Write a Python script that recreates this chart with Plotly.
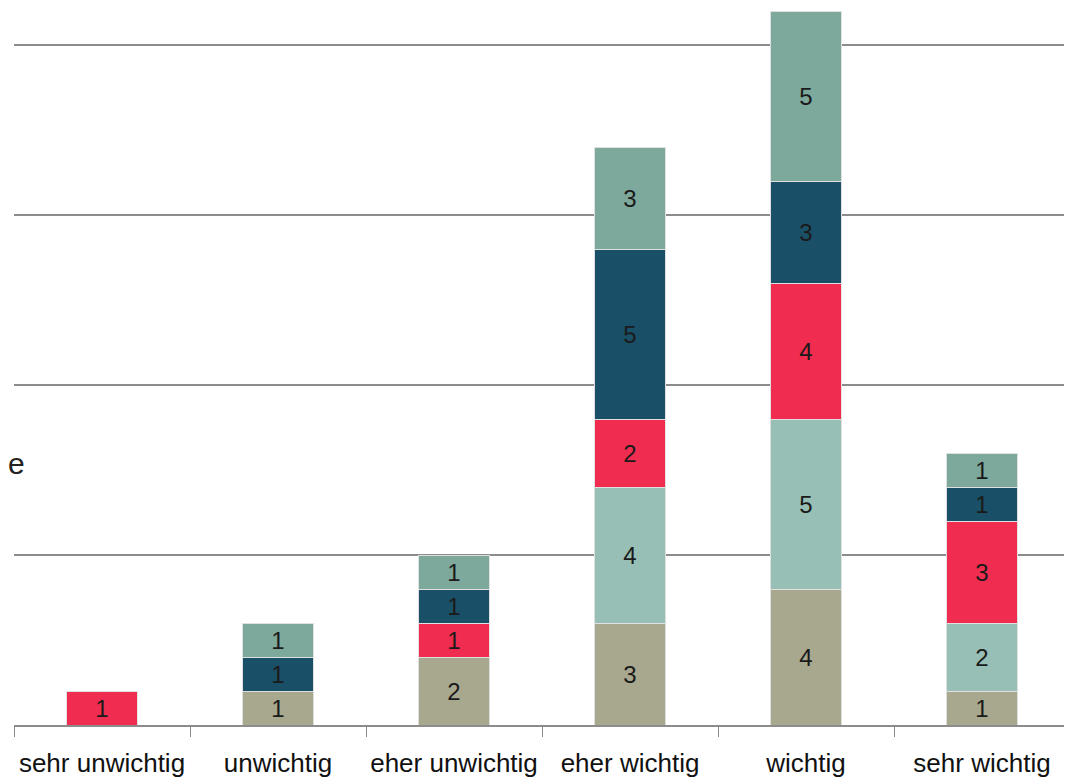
import plotly.graph_objects as go

categories = ["sehr unwichtig", "unwichtig", "eher unwichtig", "eher wichtig", "wichtig", "sehr wichtig"]
series_names = ["S1", "S2", "S3", "S4", "S5"]
s1 = [0, 1, 2, 3, 4, 1]
s2 = [0, 0, 0, 4, 5, 2]
s3 = [1, 0, 1, 2, 4, 3]
s4 = [0, 1, 1, 5, 3, 1]
s5 = [0, 1, 1, 3, 5, 1]
series_values = [s1, s2, s3, s4, s5]
colors = ["#A8A88E", "#97BFB5", "#F02D50", "#1A4F68", "#7DA89C"]

FONT = "Liberation Sans, Arial, sans-serif"

fig = go.Figure()
for name, vals, col in zip(series_names, series_values, colors):
    fig.add_trace(go.Bar(
        x=categories, y=vals, name=name,
        marker=dict(color=col, line=dict(color="#E0E0E0", width=1)),
        text=[str(v) if v else "" for v in vals],
        textposition="inside", insidetextanchor="middle", textangle=0,
        constraintext="none",
        textfont=dict(family=FONT, size=24, color="#1a1a1a"),
        width=0.4, hoverinfo="skip",
    ))

fig.add_annotation(text="e", x=-0.0076, xref="paper", xanchor="left",
                   y=7.68, yref="y", yanchor="middle", showarrow=False,
                   font=dict(family=FONT, size=30, color="#222"))

fig.update_layout(
    barmode="stack", width=1072, height=781,
    margin=dict(l=6, r=10, t=0, b=64, autoexpand=False),
    paper_bgcolor="white", plot_bgcolor="white",
    showlegend=False,
    font=dict(family=FONT, color="#111"),
    xaxis=dict(showline=True, linecolor="#8c8c8c", linewidth=2, automargin=False,
               ticks="outside", tickson="boundaries", ticklen=10, tickcolor="#8c8c8c", tickwidth=1,
               tickangle=0, ticklabelstandoff=14,
               tickfont=dict(family=FONT, size=26, color="#111"), showgrid=False),
    yaxis=dict(range=[0, 21.09], dtick=5, showgrid=True, gridcolor="#8c8c8c", gridwidth=2,
               automargin=False,
               showticklabels=False, zeroline=False, showline=False),
)

fig.write_html("out.html")
